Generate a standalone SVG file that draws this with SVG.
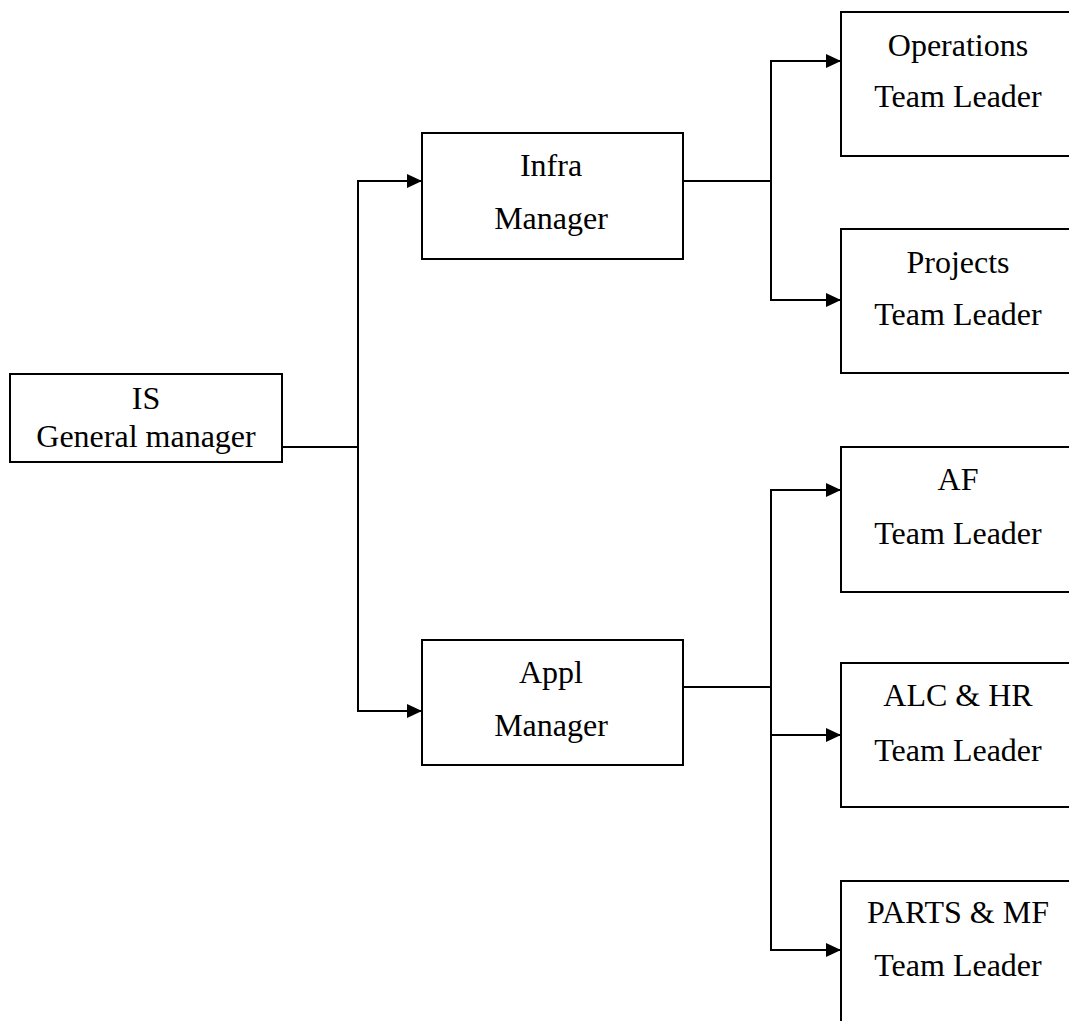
<svg xmlns="http://www.w3.org/2000/svg" width="1069" height="1021" viewBox="0 0 1069 1021">
  <style>
    .box { fill: #ffffff; stroke: #000000; stroke-width: 2; }
    .lbl { font-family: "Liberation Serif", "Times New Roman", serif; font-size: 32px; fill: #000000; text-anchor: middle; }
    .wire { fill: none; stroke: #000000; stroke-width: 2; }
  </style>
  <defs>
    <marker id="arrow" viewBox="0 0 15 14" refX="15" refY="7" markerWidth="15" markerHeight="14" markerUnits="userSpaceOnUse" orient="auto">
      <path d="M0,0 L15,7 L0,14 Z" fill="#000000"/>
    </marker>
  </defs>
  <rect width="1069" height="1021" fill="#ffffff"/>

  <g id="connectors">
    <!-- general manager to managers -->
    <path class="wire" d="M282,447 H358"/>
    <path class="wire" d="M358,711 V181 H422" marker-end="url(#arrow)"/>
    <path class="wire" d="M358,447 V711 H422" marker-end="url(#arrow)"/>
    <!-- infra manager to its team leaders -->
    <path class="wire" d="M683,181 H771"/>
    <path class="wire" d="M771,181 V61 H841" marker-end="url(#arrow)"/>
    <path class="wire" d="M771,181 V300 H841" marker-end="url(#arrow)"/>
    <!-- appl manager to its team leaders -->
    <path class="wire" d="M683,687 H771"/>
    <path class="wire" d="M771,687 V490 H841" marker-end="url(#arrow)"/>
    <path class="wire" d="M771,687 V735 H841" marker-end="url(#arrow)"/>
    <path class="wire" d="M771,687 V950 H841" marker-end="url(#arrow)"/>
  </g>

  <g id="is-gm">
    <rect class="box" x="10" y="374" width="272" height="88"/>
    <text class="lbl" x="146" y="409">IS</text>
    <text class="lbl" x="146" y="447">General manager</text>
  </g>

  <g id="infra-manager">
    <rect class="box" x="422" y="133" width="261" height="126"/>
    <text class="lbl" x="551" y="176">Infra</text>
    <text class="lbl" x="551" y="229">Manager</text>
  </g>

  <g id="appl-manager">
    <rect class="box" x="422" y="640" width="261" height="125"/>
    <text class="lbl" x="551" y="683">Appl</text>
    <text class="lbl" x="551" y="736">Manager</text>
  </g>

  <g id="operations-tl">
    <rect class="box" x="841" y="12" width="260" height="144"/>
    <text class="lbl" x="958" y="56">Operations</text>
    <text class="lbl" x="958" y="107">Team Leader</text>
  </g>

  <g id="projects-tl">
    <rect class="box" x="841" y="229" width="260" height="144"/>
    <text class="lbl" x="958" y="273">Projects</text>
    <text class="lbl" x="958" y="325">Team Leader</text>
  </g>

  <g id="af-tl">
    <rect class="box" x="841" y="447" width="260" height="145"/>
    <text class="lbl" x="958" y="490">AF</text>
    <text class="lbl" x="958" y="544">Team Leader</text>
  </g>

  <g id="alc-hr-tl">
    <rect class="box" x="841" y="663" width="260" height="144"/>
    <text class="lbl" x="958" y="706">ALC &amp; HR</text>
    <text class="lbl" x="958" y="761">Team Leader</text>
  </g>

  <g id="parts-mf-tl">
    <rect class="box" x="841" y="881" width="260" height="160"/>
    <text class="lbl" x="958" y="923">PARTS &amp; MF</text>
    <text class="lbl" x="958" y="976">Team Leader</text>
  </g>
</svg>
